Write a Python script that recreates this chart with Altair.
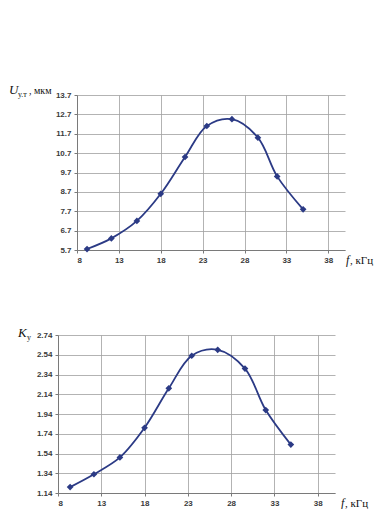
import altair as alt
import pandas as pd

# ---- data ----
f_top = [9.2, 12.1, 15.15, 18.0, 20.9, 23.5, 26.5, 29.6, 31.9, 35.0]
u_vals = [5.75, 6.3, 7.2, 8.6, 10.5, 12.1, 12.45, 11.5, 9.5, 7.8]
f_bot = [9.4, 12.15, 15.15, 18.0, 20.8, 23.45, 26.45, 29.6, 32.0, 34.9]
k_vals = [1.2, 1.33, 1.5, 1.8, 2.2, 2.53, 2.59, 2.4, 1.98, 1.63]
x_ticks = [8, 13, 18, 23, 28, 33, 38]
u_ticks = [5.7, 6.7, 7.7, 8.7, 9.7, 10.7, 11.7, 12.7, 13.7]
k_ticks = [1.14, 1.34, 1.54, 1.74, 1.94, 2.14, 2.34, 2.54, 2.74]

NAVY = "#2b3a85"
SERIF = "Liberation Serif"
one = pd.DataFrame({"a": [0]})


def label(text, x, y, size, italic=False):
    return alt.Chart(one).mark_text(
        text=text, font=SERIF, fontSize=size, fontStyle="italic" if italic else "normal",
        align="left", baseline="alphabetic", color="#111111"
    ).encode(x=alt.value(x), y=alt.value(y))


def panel(f, v, yticks, ydom, fmt, w, h, ylabels, xlab_dx):
    df = pd.DataFrame({"f": f, "v": v})
    x = alt.X("f:Q", scale=alt.Scale(domain=[8, 40], nice=False, zero=False),
              axis=alt.Axis(values=x_ticks, title=None, format="d"))
    y = alt.Y("v:Q", scale=alt.Scale(domain=ydom, nice=False, zero=False),
              axis=alt.Axis(values=yticks, title=None, format=fmt))
    base = alt.Chart(df)
    line = base.mark_line(interpolate="catmull-rom", color=NAVY, strokeWidth=1.8).encode(x=x, y=y)
    pts = base.mark_point(shape="diamond", filled=True, size=45, color=NAVY, opacity=1).encode(x=x, y=y)
    layers = [line, pts]
    for (t, dx, dy, s, it) in ylabels:
        layers.append(label(t, dx, dy, s, it))
    layers.append(label("f", w + xlab_dx, h + 14, 12, True))
    layers.append(label(", кГц", w + xlab_dx + 4, h + 14, 11))
    return alt.layer(*layers).properties(width=w, height=h)


def spacer(w):
    return alt.Chart(one).mark_point(size=0, opacity=0).encode(
        x=alt.value(w), y=alt.value(0)
    ).properties(width=w, height=5)


top = panel(f_top, u_vals, u_ticks, [5.7, 13.7], ".1f", 268, 155,
            [("U", -68, -1, 13, True), ("у.т", -59, 2, 8, False), (", мкм", -48, -1, 10, False)], 1)
bottom = panel(f_bot, k_vals, k_ticks, [1.14, 2.74], ".2f", 277, 158,
               [("K", -40, 2, 13, True), ("у", -31, 5, 8, False)], 6)

chart = alt.vconcat(
    alt.hconcat(spacer(1), top, spacing=0),
    alt.hconcat(spacer(10), bottom, spacing=0),
    spacing=61,
).properties(
    padding={"left": 0, "top": 76, "right": 0, "bottom": 0}
).configure_view(stroke=None).configure_axis(
    grid=True, gridColor="#a0a0a0", gridWidth=0.8,
    domainColor="#7a7a7a", domainWidth=1, tickColor="#7a7a7a", tickSize=3,
    labelFont="Liberation Sans", labelFontSize=8, labelFontWeight="bold",
    labelColor="#3a3a3a", labelPadding=3,
)

chart.save("out.html", embed_options={"renderer": "svg", "actions": False})
